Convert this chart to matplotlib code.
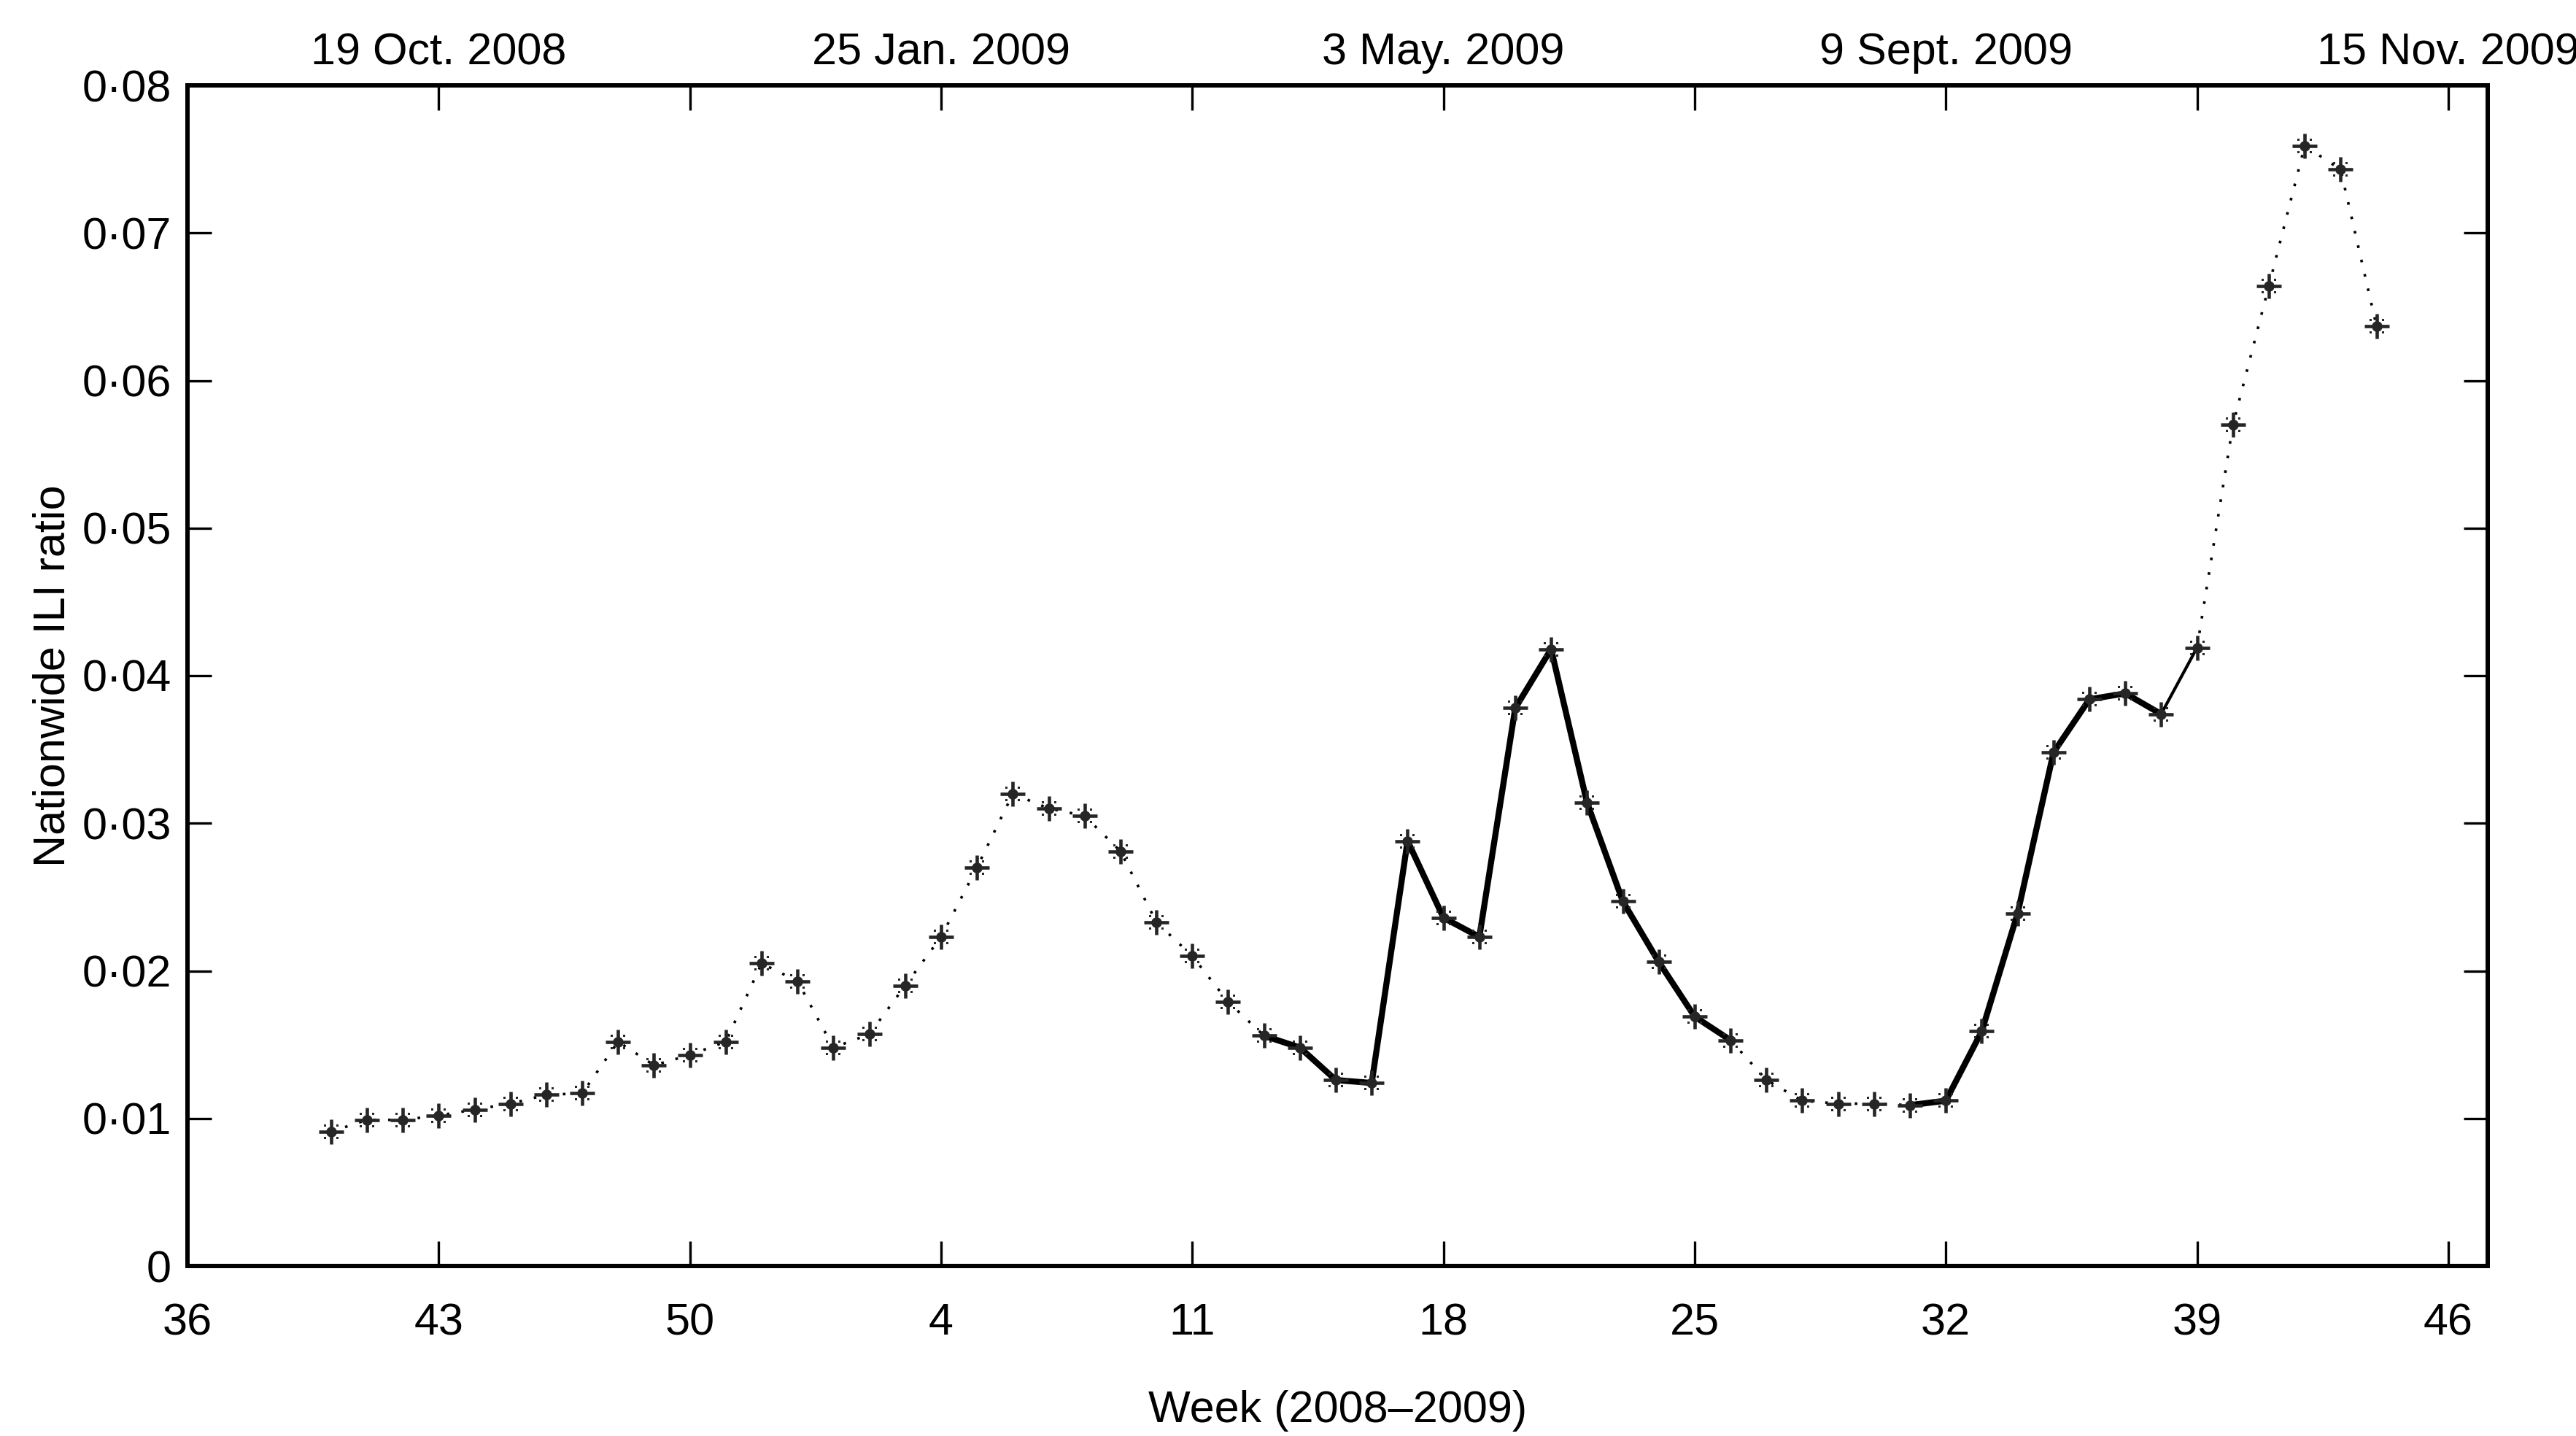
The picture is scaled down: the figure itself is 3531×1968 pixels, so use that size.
import matplotlib
matplotlib.use('Agg')
import matplotlib.pyplot as plt
from matplotlib.path import Path

plt.rcParams['font.family'] = ['Liberation Sans', 'DejaVu Sans']

# ---------------- data ----------------
weeks_2008 = [40, 41, 42, 43, 44, 45, 46, 47, 48, 49, 50, 51, 52, 53]
weeks_2009 = [1, 2, 3, 4, 5, 6, 7, 8, 9, 10, 11, 12, 13, 14, 15, 16, 17, 18, 19, 20,
              21, 22, 23, 24, 25, 26, 27, 28, 29, 30, 31, 32, 33, 34, 35, 36, 37, 38,
              39, 40, 41, 42, 43, 44]
ili_ratio = [0.0091, 0.0099, 0.0099, 0.0102, 0.0106, 0.0110, 0.0116, 0.0117, 0.0152, 0.0136,
             0.0143, 0.0152, 0.0205, 0.0193,
             0.0148, 0.0157, 0.0190, 0.0223, 0.0270, 0.0320, 0.0310, 0.0305, 0.0281, 0.0233,
             0.0210, 0.0179, 0.0156, 0.0148, 0.0126, 0.0124, 0.0288, 0.0236, 0.0223, 0.0378,
             0.0418, 0.0314, 0.0247, 0.0206, 0.0169, 0.0153, 0.0126, 0.0112, 0.0110, 0.0110,
             0.0109, 0.0112, 0.0159, 0.0239, 0.0348, 0.0384, 0.0388, 0.0374, 0.0419, 0.0570,
             0.0664, 0.0759, 0.0743, 0.0637]

tick_weeks = [(2008, 36), (2008, 43), (2008, 50), (2009, 4), (2009, 11), (2009, 18),
              (2009, 25), (2009, 32), (2009, 39), (2009, 46)]
tick_labels = ['36', '43', '50', '4', '11', '18', '25', '32', '39', '46']
top_labels = ['', '19 Oct. 2008', '', '25 Jan. 2009', '', '3 May. 2009', '',
              '9 Sept. 2009', '', '15 Nov. 2009']
y_ticks = [0, 0.01, 0.02, 0.03, 0.04, 0.05, 0.06, 0.07, 0.08]
y_tick_labels = ['0', '0\u00b701', '0\u00b702', '0\u00b703', '0\u00b704', '0\u00b705',
                 '0\u00b706', '0\u00b707', '0\u00b708']

# line style periods (weeks of 2009)
solid_periods_2009 = [(13, 26), (31, 38)]
thin_periods_2009 = [(38, 39)]

WEEKS_IN_2008 = 53  # epidemiological year 2008 has 53 weeks
FIRST_WEEK = 36


def week_pos(year, week):
    if year == 2008:
        return week - FIRST_WEEK
    return WEEKS_IN_2008 - FIRST_WEEK + week


points = [(2008, w) for w in weeks_2008] + [(2009, w) for w in weeks_2009]
xs = [week_pos(y, w) for y, w in points]


def link_style(p0, p1):
    if p0[0] == 2009 and p1[0] == 2009:
        for a, b in solid_periods_2009:
            if a <= p0[1] and p1[1] <= b:
                return 'solid'
        for a, b in thin_periods_2009:
            if a <= p0[1] and p1[1] <= b:
                return 'thin'
    return 'dotted'


# ---------------- figure ----------------
W, H, DPI = 3531, 1968, 100
fig = plt.figure(figsize=(W / DPI, H / DPI), dpi=DPI)
ax = fig.add_axes([257 / W, 1 - 1735 / H, (3410 - 257) / W, (1735 - 117) / H])

FS = 44
styles = {
    'dotted': dict(color='black', lw=2.6, linestyle=(0, (1, 4.6)), dash_capstyle='butt'),
    'solid': dict(color='black', lw=6.0, linestyle='-', solid_capstyle='round',
                  solid_joinstyle='round'),
    'thin': dict(color='black', lw=3.0, linestyle='-', solid_capstyle='round'),
}

# group contiguous links with the same style
runs = []
for i in range(len(points) - 1):
    s = link_style(points[i], points[i + 1])
    if runs and runs[-1][0] == s and runs[-1][2] == i:
        runs[-1][2] = i + 1
    else:
        runs.append([s, i, i + 1])
for s, i0, i1 in runs:
    ax.plot(xs[i0:i1 + 1], ili_ratio[i0:i1 + 1], zorder=2, **styles[s])

# asterisk-like markers
mcol = '#262626'
ax.plot(xs, ili_ratio, linestyle='none', marker='+', ms=25, mew=3.3, color=mcol, zorder=3)
ax.plot(xs, ili_ratio, linestyle='none', marker='o', ms=10.5, mew=0, color=mcol, zorder=3)
verts, codes = [], []
for sx in (-1, 1):
    for sy in (-1, 1):
        h = 0.2
        verts += [(sx - h, sy - h), (sx + h, sy - h), (sx + h, sy + h), (sx - h, sy + h),
                  (sx - h, sy - h)]
        codes += [Path.MOVETO, Path.LINETO, Path.LINETO, Path.LINETO, Path.CLOSEPOLY]
diag_marker = Path(verts, codes)
ax.plot(xs, ili_ratio, linestyle='none', marker=diag_marker, ms=14.5, mew=0, color=mcol,
        zorder=3)

# axes
tick_pos = [week_pos(y, w) for y, w in tick_weeks]
ax.set_xlim(0, 64.1)
ax.set_ylim(0, 0.08)
ax.set_xticks(tick_pos)
ax.set_xticklabels(tick_labels, fontsize=FS)
ax.set_yticks(y_ticks)
ax.set_yticklabels(y_tick_labels, fontsize=FS)
ax.tick_params(axis='x', direction='in', length=24.5, width=2.4, pad=36, bottom=True, top=False)
ax.tick_params(axis='y', direction='in', length=24, width=2.4, pad=16, left=True, right=True)
for sp in ax.spines.values():
    sp.set_linewidth(4.3)

ax.set_xlabel('Week (2008\u20132009)', fontsize=FS, labelpad=45)
ax.set_ylabel('Nationwide ILI ratio', fontsize=FS, labelpad=8)

ax2 = ax.twiny()
ax2.set_xlim(ax.get_xlim())
ax2.set_xticks(tick_pos)
ax2.set_xticklabels(top_labels, fontsize=FS)
ax2.tick_params(axis='x', direction='in', length=24.5, width=2.4, pad=11.5)
for sp in ax2.spines.values():
    sp.set_linewidth(4.3)

fig.savefig('out.png', dpi=DPI, facecolor='white')
